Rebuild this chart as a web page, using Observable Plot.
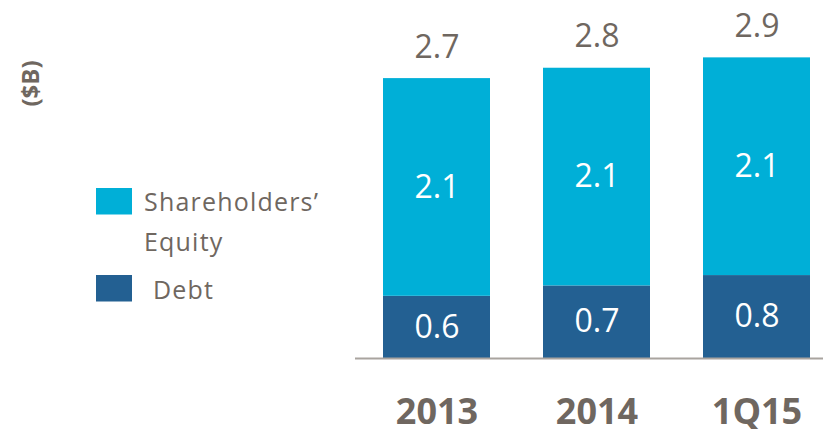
<!DOCTYPE html>
<html><head><meta charset="utf-8">
<script src="https://cdn.jsdelivr.net/npm/d3@7"></script>
<script src="https://cdn.jsdelivr.net/npm/@observablehq/plot@0.6"></script>
<style>
body{margin:0;background:#fff;}
#wrap{position:relative;width:823px;height:429px;}
</style></head><body><div id="wrap"></div>
<script>
const periods = ["2013", "2014", "1Q15"];
const debt = [0.6, 0.7, 0.8];
const equity = [2.1, 2.1, 2.1];
const totals = [2.7, 2.8, 2.9];
const seriesNames = ["Debt", "Shareholders’ Equity"];
const colors = ["#236092", "#00AFD7"];
const unitLabel = "($B)";

const gray = "#6F6760";
const font = "'Open Sans', sans-serif";

const rows = periods.flatMap((p, i) => [
  {period: p, series: seriesNames[0], value: debt[i]},
  {period: p, series: seriesNames[1], value: equity[i]}
]);
const totalRows = periods.map((p, i) => ({period: p, total: totals[i]}));

const plot = Plot.plot({
  width: 823, height: 429,
  marginLeft: 355, marginRight: 0, marginTop: 47, marginBottom: 71,
  style: {fontFamily: font, background: "white", overflow: "visible"},
  x: {domain: periods, range: [355, 836.75], paddingInner: 0.333, paddingOuter: 0.1667, label: null, axis: null},
  y: {domain: [0, 3], axis: null},
  color: {domain: seriesNames, range: colors},
  marks: [
    Plot.barY(rows, {x: "period", y: "value", fill: "series", z: "series"}),
    Plot.text(rows, Plot.stackY({x: "period", y: "value", z: "series", text: d => d.value.toFixed(1), fill: "white", fontSize: 32})),
    Plot.text(totalRows, {x: "period", y: "total", text: d => d.total.toFixed(1), dy: -31, fill: gray, fontSize: 32}),
    Plot.ruleY([0], {stroke: "#A9A49F", strokeWidth: 2}),
    Plot.axisX({tickSize: 0, tickPadding: 40, fontSize: 36, fontWeight: "bold", fill: gray, label: null})
  ]
});
document.getElementById("wrap").appendChild(plot);

// Legend and unit label overlay
const svg = d3.select(plot);
const lg = svg.append("g").attr("font-family", font).attr("fill", gray).attr("font-size", 25)
  .attr("text-anchor", "start").style("letter-spacing", "1.2px");
const legendItems = [
  {color: colors[1], y: 188, lines: ["Shareholders’", "Equity"], tx: 144, ty: 210.5},
  {color: colors[0], y: 275, lines: ["Debt"], tx: 153, ty: 299}
];
legendItems.forEach(it => {
  lg.append("rect").attr("x", 96).attr("y", it.y).attr("width", 36).attr("height", 26.5).attr("fill", it.color);
  it.lines.forEach((t, j) => {
    lg.append("text").attr("x", it.tx).attr("y", it.ty + j * 40).attr("text-anchor", "start").text(t);
  });
});
svg.append("text")
  .attr("transform", "translate(31,83.5) rotate(-90)")
  .attr("text-anchor", "middle").attr("dy", "0.35em")
  .attr("font-family", font).attr("font-weight", "bold").attr("font-size", 24)
  .attr("fill", gray).text(unitLabel);
</script>
</body></html>
